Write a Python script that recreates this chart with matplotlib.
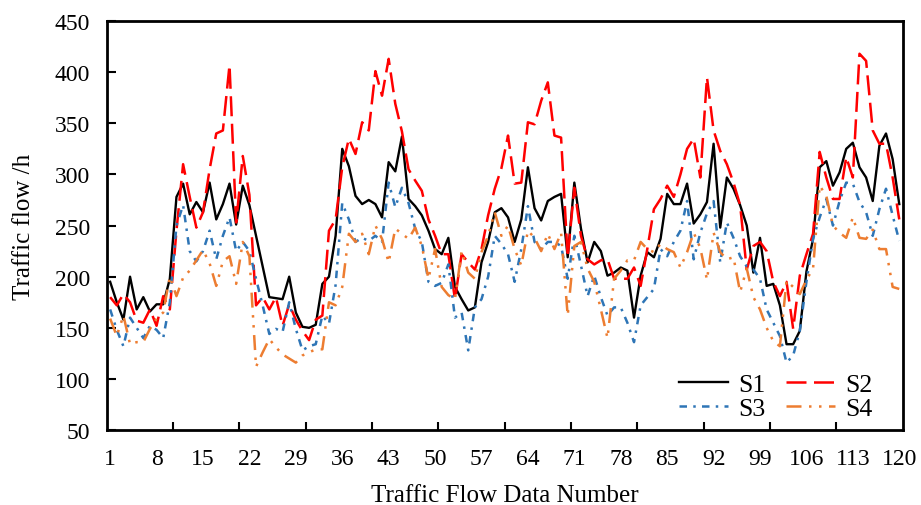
import numpy as np
import matplotlib
matplotlib.use("Agg")
import matplotlib.pyplot as plt

# traffic flow per hour, 120 samples per series
s1 = [195, 175, 158, 200, 168, 180, 166, 173, 173, 198,
      278, 291, 261, 273, 263, 292, 256, 271, 291, 251,
      289, 270, 240, 210, 180, 179, 178, 200, 165, 151,
      150, 153, 193, 200, 240, 325, 308, 279, 271, 275,
      271, 258, 312, 303, 337, 276, 269, 260, 245, 227,
      222, 238, 190, 178, 167, 170, 214, 234, 263, 267,
      258, 234, 256, 307, 267, 255, 274, 278, 281, 219,
      292, 247, 214, 234, 225, 201, 204, 209, 206, 160,
      201, 224, 219, 237, 281, 271, 271, 291, 252, 261,
      273, 330, 248, 297, 286, 270, 250, 204, 238, 191,
      193, 172, 134, 134, 147, 205, 237, 307, 313, 289,
      302, 325, 331, 307, 297, 274, 328, 340, 315, 271]

s2 = [180, 172, 183, 175, 157, 155, 168, 152, 181, 168,
      245, 310, 278, 248, 263, 305, 340, 343, 407, 253,
      318, 280, 172, 180, 168, 180, 152, 173, 158, 147,
      138, 158, 162, 245, 256, 307, 335, 320, 351, 343,
      401, 377, 413, 369, 342, 305, 294, 284, 256, 240,
      222, 222, 178, 222, 214, 207, 227, 260, 286, 306,
      338, 291, 292, 351, 349, 372, 390, 338, 336, 219,
      287, 240, 217, 212, 216, 217, 198, 198, 198, 209,
      191, 227, 266, 276, 289, 278, 300, 325, 335, 297,
      395, 343, 323, 310, 292, 270, 207, 230, 234, 225,
      195, 181, 195, 149, 201, 222, 242, 322, 297, 276,
      276, 317, 297, 418, 411, 343, 330, 330, 297, 256]

s3 = [168, 148, 132, 160, 150, 140, 152, 148, 140, 175,
      250, 270, 225, 215, 225, 245, 217, 240, 258, 225,
      234, 225, 198, 172, 144, 149, 146, 175, 149, 128,
      132, 134, 162, 154, 192, 272, 256, 234, 238, 235,
      240, 234, 292, 268, 287, 272, 247, 234, 195, 191,
      194, 212, 160, 165, 128, 170, 178, 200, 240, 232,
      222, 195, 227, 269, 234, 227, 234, 234, 230, 198,
      240, 211, 181, 201, 180, 162, 170, 170, 155, 136,
      172, 180, 188, 227, 220, 234, 245, 274, 217, 243,
      262, 274, 214, 253, 238, 220, 210, 207, 198, 168,
      155, 142, 116, 123, 147, 195, 237, 258, 276, 250,
      274, 292, 291, 273, 263, 240, 266, 286, 260, 235]

s4 = [159, 142, 162, 134, 136, 136, 149, 159, 165, 200,
      181, 199, 206, 216, 226, 213, 191, 215, 220, 193,
      234, 220, 112, 126, 139, 131, 124, 120, 116, 123,
      126, 129, 129, 175, 172, 190, 242, 234, 242, 222,
      250, 237, 214, 247, 242, 237, 248, 230, 198, 227,
      190, 182, 178, 225, 204, 198, 224, 240, 263, 240,
      250, 227, 211, 245, 238, 225, 242, 227, 243, 162,
      230, 234, 208, 195, 168, 140, 198, 206, 216, 216,
      234, 227, 224, 232, 227, 224, 209, 224, 243, 228,
      197, 243, 224, 217, 219, 185, 208, 180, 168, 150,
      137, 132, 196, 190, 183, 197, 208, 289, 279, 250,
      243, 238, 258, 238, 237, 246, 227, 227, 190, 188]

x = np.arange(1, len(s1) + 1)
xticks = list(range(1, 121, 7))
yticks = list(range(50, 451, 50))

plt.rcParams['font.family'] = ['Liberation Serif', 'DejaVu Serif']

fig = plt.figure(figsize=(9.21, 5.06), dpi=100)
ax = fig.add_axes([0.116, 0.148, 0.864, 0.8085])

l1, = ax.plot(x, s1, color='black', lw=1.7, label='S1')
l2, = ax.plot(x, s2, color='#FF0000', lw=1.8, dashes=(8, 3), label='S2')
l3, = ax.plot(x, s3, color='#2E75B6', lw=1.8, dashes=(3, 2.5, 1, 2.5), label='S3')
l4, = ax.plot(x, s4, color='#ED7D31', lw=1.8, dashes=(6, 3, 1, 3, 1, 3), label='S4')

ax.set_xlim(0.5, 120.5)
ax.set_ylim(50, 450)
ax.set_xticks(xticks)
ax.set_xticks(np.arange(10.5, 120, 10), minor=True)
ax.set_yticks(yticks)
ax.tick_params(axis='x', which='major', length=0, pad=13, labelsize=17)
ax.tick_params(axis='x', which='minor', direction='in', length=6, width=1.5)
ax.tick_params(axis='y', direction='in', length=6.5, width=1.5, pad=12, labelsize=17)
for sp in ax.spines.values():
    sp.set_linewidth(2)

ax.set_xlabel('Traffic Flow Data Number', fontsize=18, labelpad=11)
ax.set_ylabel('Traffic flow /h', fontsize=18, labelpad=14)

ax.legend([l1, l3, l2, l4], ['S1', 'S3', 'S2', 'S4'], ncol=2, frameon=False,
          fontsize=18.5, loc='lower right', bbox_to_anchor=(0.975, 0.0),
          borderaxespad=0, handlelength=1.9, columnspacing=0.8,
          labelspacing=0.05, handletextpad=0.4)

fig.savefig('out.png', dpi=100)
